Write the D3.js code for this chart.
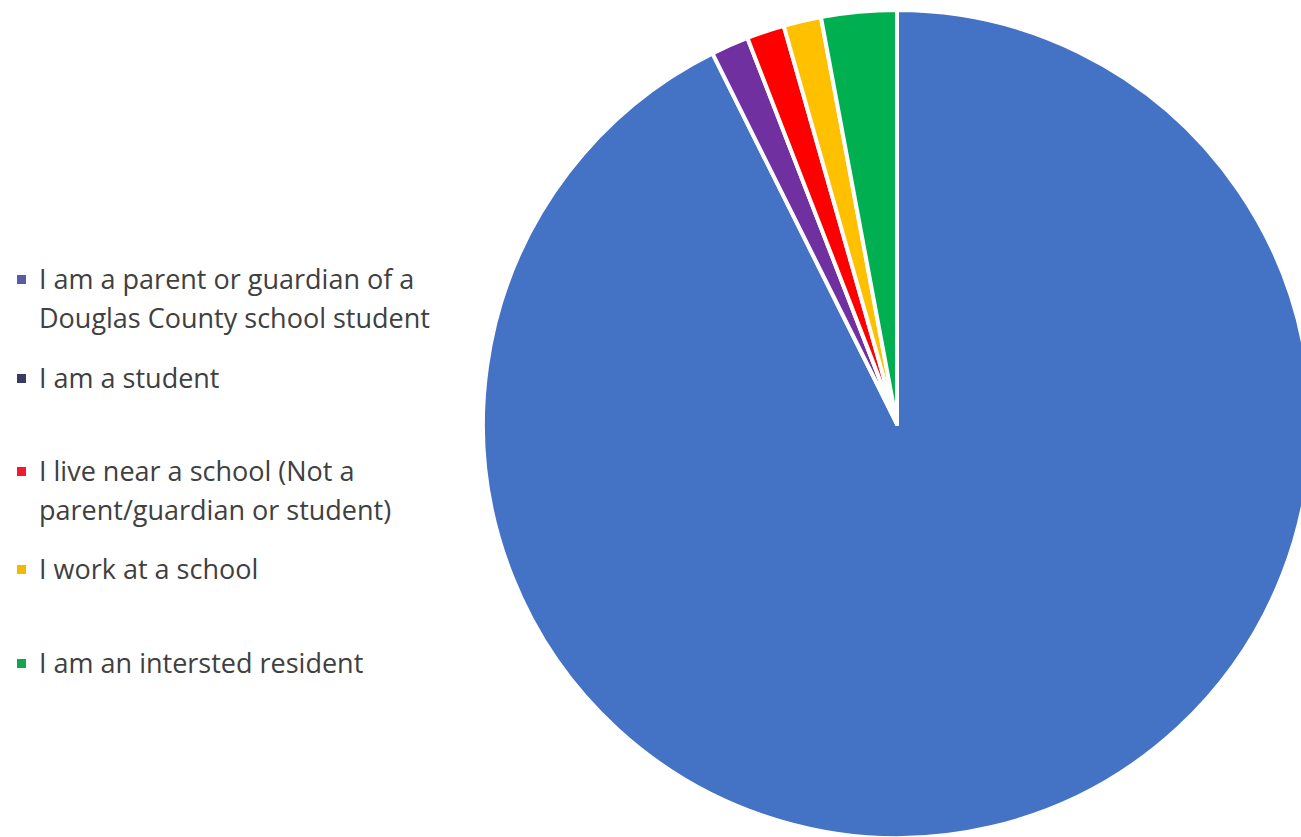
<!DOCTYPE html>
<html>
<head>
<meta charset="utf-8">
<script src="https://cdn.jsdelivr.net/npm/d3@7"></script>
<style>
  html, body { margin: 0; padding: 0; background: #ffffff; }
  svg { display: block; }
</style>
</head>
<body>
<svg id="chart" width="1301" height="837"></svg>
<script>
// ---- data ----
const categories = [
  "I am a parent or guardian of a Douglas County school student",
  "I am a student",
  "I live near a school (Not a parent/guardian or student)",
  "I work at a school",
  "I am an intersted resident"
];
const values = [63, 1, 1, 1, 2];
const sliceColors = ["#4472C4", "#7030A0", "#FF0000", "#FFC000", "#00B050"];
const legendColors = ["#5b5aa3", "#3a3b62", "#ee1b2e", "#f5b800", "#13a651"];
const legendLines = [
  ["I am a parent or guardian of a", "Douglas County school student"],
  ["I am a student"],
  ["I live near a school (Not a", "parent/guardian or student)"],
  ["I work at a school"],
  ["I am an intersted resident"]
];

// ---- layout ----
const svg = d3.select("#chart");
const cx = 897, cy = 424, r = 414;

const pie = d3.pie().sort(null).value(d => d.v)
  .startAngle(0).endAngle(2 * Math.PI);
const data = values.map((v, i) => ({ v, i }));
const arcs = pie(data);
const arc = d3.arc().innerRadius(0).outerRadius(r);

svg.append("g")
  .attr("transform", `translate(${cx},${cy})`)
  .selectAll("path")
  .data(arcs)
  .join("path")
  .attr("d", arc)
  .attr("fill", d => sliceColors[d.data.i])
  .attr("stroke", "#ffffff")
  .attr("stroke-width", 4)
  .attr("stroke-linejoin", "round");

// ---- legend ----
const legendY = [280, 379, 472, 570, 664];
const lineH = 39;
const lg = svg.append("g");
categories.forEach((c, i) => {
  const g = lg.append("g").attr("transform", `translate(0,${legendY[i]})`);
  g.append("rect")
    .attr("x", 17).attr("y", -5)
    .attr("width", 9).attr("height", 9)
    .attr("fill", legendColors[i]);
  legendLines[i].forEach((t, j) => {
    g.append("text")
      .attr("x", 39)
      .attr("y", j * lineH)
      .attr("dy", "0.35em")
      .attr("font-family", "'Open Sans', 'Liberation Sans', sans-serif")
      .attr("font-size", 27)
      .attr("fill", "#404040")
      .text(t);
  });
});
</script>
</body>
</html>
